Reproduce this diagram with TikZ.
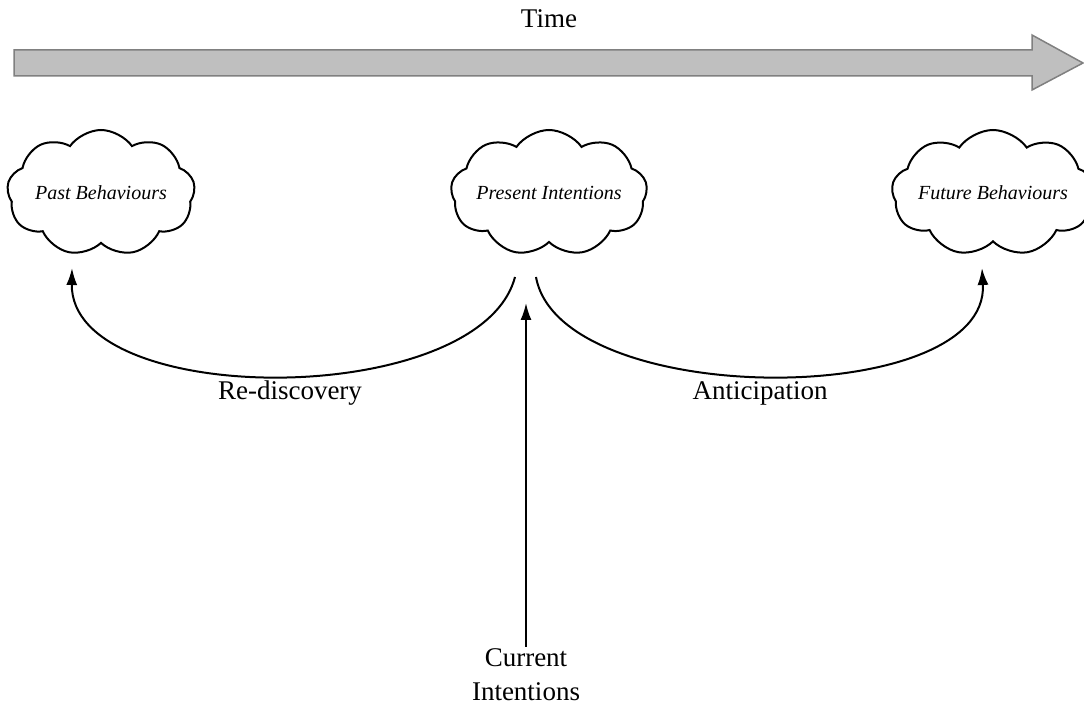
\documentclass[tikz,border=0pt]{standalone}
\usepackage{fontspec}
\setmainfont{Liberation Serif}
\usetikzlibrary{shapes.symbols,arrows.meta}

\begin{document}
\begin{tikzpicture}[
    x=0.5pt, y=-0.5pt,
    thought/.style={draw, cloud, cloud puffs=9, cloud puff arc=110, cloud ignores aspect,
        line width=1pt, minimum width=94pt, minimum height=63pt, inner sep=0pt,
        font=\fontsize{10}{12}\selectfont\itshape},
    label/.style={font=\fontsize{13.5}{17}\selectfont, align=center, inner sep=1pt},
    link/.style={line width=1pt, -{Latex[length=8.5pt,width=5.5pt]}}
]
    \useasboundingbox (0,0) rectangle (1084,704);
    % Time line
    \filldraw[fill=gray!50, draw=gray, line width=0.75pt]
        (14,50) -- (1032,50) -- (1032,35) -- (1083,63)
        -- (1032,90) -- (1032,76) -- (14,76) -- cycle;
    \node[label] (time) at (549,19) {Time};

    % Clouds
    \node[thought] (past) at (101,193) {Past Behaviours};
    \node[thought] (present) at (549,193) {Present Intentions};
    \node[thought] (future) at (993,193) {Future Behaviours};

    % Arrow ends
    \coordinate (pres-l) at (515,277);
    \coordinate (pres-r) at (536,277);
    \coordinate (pres-in) at (526,303);
    \coordinate (past-in) at (72,268);
    \coordinate (future-in) at (982,268);

    % Links
    \draw[link] (pres-l) .. controls (480,410) and (70,410) .. (past-in);
    \draw[link] (pres-r) .. controls (560,410) and (990,410) .. (future-in);
    \node[label] (rediscovery) at (290,393) {Re-discovery};
    \node[label] (anticipation) at (760,393) {Anticipation};

    \node[label] (current) at (526,675) {Current\\Intentions};
    \draw[link] (current.north) -- (pres-in);
\end{tikzpicture}
\end{document}
